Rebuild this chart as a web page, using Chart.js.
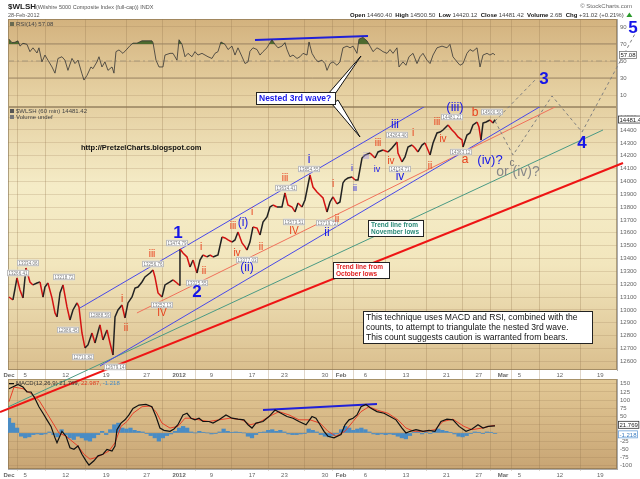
<!DOCTYPE html>
<html>
<head>
<meta charset="utf-8">
<script src="https://cdn.jsdelivr.net/npm/chart.js@4.4.1/dist/chart.umd.min.js"></script>
<style>
  html, body { margin: 0; padding: 0; background: #fff; }
  canvas { display: block; }
</style>
</head>
<body>
<canvas id="chart" width="640" height="479"></canvas>
<script>
// x values are trading-day indexes counted from Dec 1, 2011 (60 min bars)
const dateTicks = [0, 2, 7, 12, 17, 21, 25, 30, 34, 39, 41, 44, 49, 54, 58, 61, 63, 68, 73];
const dateLabels = ['Dec', '5', '12', '19', '27', '2012', '9', '17', '23', '30', 'Feb', '6', '13', '21', '27', 'Mar', '5', '12', '19'];
const monthTickIdx = [0, 5, 10, 15];

const rsiTicks = [10, 30, 50, 70, 90];
const priceTicks = [12600, 12700, 12800, 12900, 13000, 13100, 13200, 13300, 13400, 13500, 13600, 13700, 13800, 13900, 14000, 14100, 14200, 14300, 14400, 14500];
const macdTicks = [-100, -75, -50, -25, 0, 25, 50, 75, 100, 125, 150];

const priceT = [0,0.49,0.99,1.36,1.73,2.10,2.59,2.96,3.46,3.83,4.20,4.44,4.81,5.31,5.68,5.93,6.30,6.67,7.16,7.53,
  7.90,8.40,8.64,9.01,9.38,9.75,10.25,10.62,11.23,11.60,12.10,12.47,12.84,13.09,13.46,13.95,14.32,14.69,15.19,15.56,
  15.93,16.42,16.79,17.41,17.78,18.02,18.40,18.89,19.26,19.88,20.25,20.74,20.99,21.11,21.48,21.98,22.35,22.72,23.21,23.58,
  23.95,24.44,24.81,25.19,25.80,26.30,26.67,27.04,27.53,27.90,28.27,28.77,29.14,29.38,29.75,30.12,30.62,30.99,31.36,31.85,
  32.22,32.59,33.09,33.70,34.07,34.44,34.94,35.31,35.68,36.17,36.54,36.79,37.16,37.53,38.02,38.40,38.77,39.26,39.63,40.00,
  40.49,40.86,41.23,41.48,41.85,42.35,42.72,43.09,43.58,43.95,44.57,45.19,45.56,46.17,46.79,47.28,47.90,48.02,48.52,48.89,
  49.26,49.75,50.12,50.49,50.99,51.36,51.73,51.98,52.35,52.84,53.21,53.58,54.20,54.69,55.06,55.43,55.93,56.05,56.54,56.91,
  57.28,57.78,58.02,58.27,58.52,58.91,59.38,59.75,60.00];
const priceV = [13100,13077,13248,13155,13093,13326,13217,13194,13209,13217,13100,13178,13209,13093,12976,12945,13132,13194,13023,12921,
  12999,13054,13023,12820,12704,12727,12820,12742,12883,12766,12844,12742,12649,12945,12999,13038,12937,13054,13100,13170,
  13178,13217,13256,13287,13311,13256,13132,13100,13194,13217,13233,13209,13194,13474,13443,13412,13334,13388,13287,13388,
  13427,13412,13427,13412,13427,13567,13560,13544,13528,13544,13606,13521,13490,13466,13528,13645,13637,13583,13684,13723,
  13801,13816,13801,13801,13910,13816,13801,13762,13832,13801,13855,13933,14050,13956,13918,13894,13871,13762,13840,13879,
  13825,13840,13988,14011,14026,14034,14011,14011,14182,14205,14221,14182,14229,14244,14229,14260,14307,14221,14151,14190,
  14268,14283,14260,14229,14283,14299,14244,14205,14299,14377,14384,14400,14439,14400,14377,14346,14322,14268,14361,14377,
  14439,14462,14423,14322,14454,14462,14478,14454,14481];

const rsiT = [0,0.37,0.74,1.11,1.36,1.73,2.22,2.59,2.96,3.46,3.70,4.07,4.44,4.81,5.31,5.68,6.05,6.54,6.91,7.28,
  7.78,8.15,8.52,9.01,9.26,9.63,10.12,10.37,10.86,11.11,11.48,11.85,12.22,12.72,12.96,13.21,13.58,14.07,14.57,14.94,
  15.31,15.80,16.42,17.04,17.65,17.78,18.15,18.52,19.01,19.26,19.88,20.25,20.74,20.99,21.36,21.73,22.10,22.59,22.96,23.33,
  23.83,24.20,24.57,25.06,25.43,25.80,26.17,26.67,27.04,27.53,27.90,28.27,28.77,29.14,29.51,
  29.75,30.12,30.62,30.99,31.36,31.85,32.22,32.47,32.84,33.21,33.70,34.07,34.32,34.69,35.06,35.56,35.93,36.30,36.79,37.04,
  37.41,37.78,38.15,38.64,39.01,39.26,39.63,40.00,40.49,40.86,41.23,41.73,42.10,42.47,42.96,43.21,43.70,44.20,44.57,44.94,
  45.43,45.80,46.17,46.67,47.04,47.41,47.90,48.15,48.64,49.01,49.38,49.88,50.37,50.74,51.11,51.60,51.98,52.35,52.84,53.46,
  54.07,54.44,54.81,55.31,55.68,56.05,56.54,56.91,57.28,57.78,58.15,58.52,59.01,59.38,59.75,60.00];
const rsiV = [75.7,71.6,72,73.7,67.5,70.8,69.6,61,65.5,59.4,65.5,49,57,51,43,35.7,53,55,51,39,
  53,47,51,35,27.6,33,43,41,49,55,43,49,39,43,35.7,61,63,59,64,68,
  71,71,73.7,73.7,73.7,71.6,51,43,43,57,59,59,51,75,69.6,55,59,55,61,57,
  59,57,55,53,59,61,72.4,69.6,63.5,67.5,57,65.5,55,47,49,
  61.4,65.5,63.5,57,61,65.5,71.6,75,69.6,65.5,67.5,71.6,63.5,55,57,53,55,59,57,72.4,
  59,53,49,51,47,39,47,49,45,49,65.5,67.5,65.5,67.5,59,75.7,77.7,73.7,67.5,61,
  65.5,63.5,61,59,63.5,59,65.5,43,49,45,55,59,47,55,59,51,47,57,65.5,67.5,
  65.5,69.6,55,49,45,47,59,63.5,61.4,65.5,43,57,59,57,59,57.08];

const macdT = [0,1.11,1.73,2.22,2.72,3.21,3.70,4.20,4.69,5.19,5.68,5.93,6.54,7.04,7.53,8.02,8.52,9.01,9.51,9.88,
  10.49,10.99,11.60,12.10,12.72,13.09,13.33,13.83,14.32,14.81,15.31,16.05,16.91,17.65,18.15,18.64,19.14,19.88,20.37,20.86,
  21.48,21.98,22.47,22.96,23.46,23.95,24.69,25.19,25.93,26.79,27.53,28.27,29.01,29.51,30.00,30.49,31.36,32.10,32.84,33.58,
  34.32,35.06,35.80,36.67,37.41,37.90,38.40,38.89,39.38,40.12,40.99,41.48,41.98,42.47,42.96,43.46,44.07,44.69,45.43,46.30,
  47.04,47.78,48.52,49.01,49.51,50.25,51.11,51.85,52.59,53.33,54.07,54.81,55.56,56.42,57.16,57.90,58.52,59.14,60.00];
const macdV = [135,148,140,125,125,105,80,60,40,20,-15,-30,5,-10,-45,-50,-40,-65,-85,-98,
  -85,-70,-65,-50,-55,-40,10,30,40,55,75,85,87,80,50,15,8,5,12,25,
  55,60,45,40,45,35,35,30,40,55,45,42,40,25,15,30,35,50,70,60,
  50,45,35,25,50,45,25,5,-10,-15,-5,25,40,45,55,80,87,75,65,60,
  50,40,15,0,5,10,5,8,5,35,42,40,20,5,12,25,15,20,21.77];

const signalT = [0,0.62,1.73,2.72,3.70,4.69,5.43,6.17,7.04,7.78,8.52,9.26,10.00,10.74,11.60,12.35,13.09,13.83,14.57,15.31,
  16.42,17.41,18.15,18.89,19.88,20.86,21.73,22.47,23.46,24.69,25.93,27.28,28.77,29.75,30.74,32.10,33.33,34.57,35.80,37.16,
  38.40,39.38,40.37,41.48,42.47,43.46,44.44,45.43,46.79,48.02,49.01,50.00,51.36,52.59,53.58,54.81,56.17,57.16,58.40,59.63,60.00];
const signalV = [95,140,135,120,100,60,30,0,-10,-25,-40,-65,-80,-75,-65,-55,-30,20,35,60,
  80,82,65,30,15,20,45,45,40,35,40,45,40,25,30,50,65,55,40,40,
  30,5,-10,5,35,65,80,70,60,40,15,5,5,10,35,42,20,10,15,22,22.99];

const histT = [0,0.5,1,1.5,2,2.5,3,3.5,4,4.5,5,5.5,6,6.5,7,7.5,8,8.5,9,9.5,
  10,10.5,11,11.5,12,12.5,13,13.5,14,14.5,15,15.5,16,16.5,17,17.5,18,18.5,19,19.5,
  20,20.5,21,21.5,22,22.5,23,23.5,24,24.5,25,25.5,26,26.5,27,27.5,28,28.5,29,29.5,
  30,30.5,31,31.5,32,32.5,33,33.5,34,34.5,35,35.5,36,36.5,37,37.5,38,38.5,39,39.5,
  40,40.5,41,41.5,42,42.5,43,43.5,44,44.5,45,45.5,46,46.5,47,47.5,48,48.5,49,49.5,
  50,50.5,51,51.5,52,52.5,53,53.5,54,54.5,55,55.5,56,56.5,57,57.5,58,58.5,59,59.5,60];
const histV = [45,30,15,-10,-15,-12,-5,-3,-5,-3,3,-5,-12,10,-5,-15,-20,-10,-15,-22,
  -25,-15,-5,5,-5,10,25,30,15,12,15,8,5,3,-2,-8,-15,-25,-15,-8,
  -3,5,15,20,15,3,0,5,2,0,-3,-2,3,12,5,2,3,2,0,-10,
  -15,-5,2,3,8,10,5,8,3,-3,-5,-5,-3,-2,12,8,3,-5,-10,-12,
  -8,-3,10,20,15,8,12,15,10,3,-3,-5,-3,-5,-3,-5,-10,-15,-18,-8,
  2,5,-3,3,-2,5,12,8,5,2,-3,-10,-12,-8,-2,3,2,-2,3,2,-1.218];

// drawn wave-count lines (price axis)
const channelUpT = [8.77, 64.94], channelUpV = [13015, 15085];
const channelLoT = [11.23, 66.54], channelLoV = [12563, 14618];
const midLineT = [15.80, 68.40], midLineV = [12976, 14610];
const novLowsT = [-0.12, 73.33], novLowsV = [12244, 14400];
const octLowsT = [-1.11, 75.80], octLowsV = [12205, 14143];
const altPathT = [60.0, 64.94], altPathV = [14470, 14789];
const mainPathT = [60.0, 62.22, 67.04, 70.74, 77.53], mainPathV = [14470, 14205, 14665, 14384, 15178];
const wave3BoxT = [66.05], wave3BoxV = [[14633, 14882]];
const rsiDivT = [30.37, 44.32], rsiDivV = [74.7, 79.4];
const macdDivT = [31.36, 45.43], macdDivV = [70, 88];

const lastClose = 14481.42, lastRsi = 57.08, lastMacd = 21.769, lastSignal = 22.987, lastHist = -1.218;

const xMin = -0.12, xMax = 75.06;
const F = '"Liberation Sans", Arial, Helvetica, sans-serif';
const BLUE = '#1616e8', RED = '#e8401c', TICK = '#666';

const pts = (t, v) => t.map((x, i) => ({ x, y: v[i] }));
function line(t, v, axis, color, width, extra) {
  return Object.assign({
    type: 'line', data: pts(t, v), yAxisID: axis, xAxisID: 'x',
    borderColor: color, borderWidth: width, pointRadius: 0, fill: false, tension: 0
  }, extra || {});
}

function put(ctx, s, x, y, size, color, weight, align) {
  ctx.font = (weight || 'normal') + ' ' + size + 'px ' + F;
  ctx.fillStyle = color;
  ctx.textAlign = align || 'center';
  ctx.textBaseline = 'middle';
  ctx.fillText(s, x, y);
}
function tag(ctx, s, x, y, size, color, border, align) {
  ctx.font = size + 'px ' + F;
  const w = ctx.measureText(s).width + 3, h = size + 2;
  const left = align === 'left' ? x : x - w / 2;
  ctx.fillStyle = '#fff';
  ctx.fillRect(left, y - h / 2, w, h);
  ctx.strokeStyle = border; ctx.lineWidth = 0.8;
  ctx.strokeRect(left + 0.5, y - h / 2 + 0.5, w - 1, h - 1);
  ctx.fillStyle = color; ctx.textAlign = 'left'; ctx.textBaseline = 'middle';
  ctx.fillText(s, left + 1.5, y + 0.5);
}
function noteBox(ctx, x, y, w, h, lines, size, color, weight, lh) {
  ctx.fillStyle = '#fff'; ctx.fillRect(x, y, w, h);
  ctx.strokeStyle = '#222'; ctx.lineWidth = 1; ctx.strokeRect(x + 0.5, y + 0.5, w - 1, h - 1);
  lines.forEach((s, i) => put(ctx, s, x + 3, y + 1 + lh / 2 + i * lh, size, color, weight, 'left'));
}
function wedge(ctx, a, b, tip) {
  ctx.beginPath(); ctx.moveTo(a[0], a[1]); ctx.lineTo(tip[0], tip[1]); ctx.lineTo(b[0], b[1]); ctx.closePath();
  ctx.fillStyle = '#fff'; ctx.fill(); ctx.strokeStyle = '#111'; ctx.lineWidth = 1; ctx.stroke();
}

// wave labels: text, x, y, size, colour, weight
const waveLabels = [
  ['1', 178, 233, 17, BLUE, 'bold'], ['2', 197, 292, 17, BLUE, 'bold'], ['3', 544, 79, 17, BLUE, 'bold'],
  ['4', 582, 143, 17, BLUE, 'bold'], ['5', 633, 28, 17, BLUE, 'bold'],
  ['(i)', 243, 223, 12, BLUE], ['(ii)', 247, 268, 12, BLUE], ['(iii)', 455, 107, 13, BLUE], ['(iv)?', 490, 160, 13, BLUE],
  ['i', 309, 160, 12, BLUE], ['ii', 327, 233, 12, BLUE], ['iii', 395, 125, 12, BLUE], ['iv', 400, 177, 12, BLUE],
  ['i', 352, 169, 9, BLUE], ['ii', 355, 189, 9, BLUE], ['iv', 377, 170, 9, BLUE], ['iii', 366, 157, 9, '#9a8fe6'],
  ['iii', 152, 254, 10, RED], ['i', 122, 299, 10, RED], ['ii', 126, 328, 10, RED], ['IV', 162, 313, 10, RED],
  ['i', 201, 247, 10, RED], ['ii', 204, 271, 10, RED], ['iii', 233, 226, 10, RED], ['iv', 237, 253, 10, RED],
  ['i', 252, 212, 10, RED], ['ii', 261, 247, 10, RED], ['iii', 285, 178, 10, RED], ['IV', 294, 231, 10, RED],
  ['i', 333, 184, 10, RED], ['ii', 337, 219, 10, RED], ['iii', 378, 143, 10, RED], ['iv', 391, 161, 10, RED],
  ['i', 413, 133, 10, RED], ['ii', 430, 166, 10, RED], ['iii', 437, 122, 10, RED], ['iv', 443, 139, 10, RED],
  ['a', 465, 160, 12, RED], ['b', 475, 113, 12, RED],
  ['c', 512, 163, 10, '#777'], ['or (iv)?', 518, 172, 14, '#888']
];
// small price tags at swing points
const swingTags = [
  ['13266.41', 18, 273], ['13334.06', 28, 263], ['13218.72', 64, 277], ['12986.45', 68, 330], ['12888.59', 100, 315],
  ['12710.82', 83, 357], ['12679.14', 115, 367], ['13256.76', 153, 264], ['13252.13', 162, 305], ['13474.79', 177, 243],
  ['13325.55', 197, 283], ['13377.03', 247, 260], ['13634.41', 286, 188], ['13573.51', 294, 222], ['13854.55', 309, 169],
  ['13719.72', 327, 223], ['14264.40', 397, 135], ['14134.71', 400, 169], ['14481.21', 452, 117], ['14363.12', 461, 152],
  ['14500.50', 492, 112]
];

const panelPlugin = {
  id: 'panels',
  beforeDraw(chart) {
    const { ctx, chartArea: a, scales } = chart;
    ctx.save();
    ctx.fillStyle = '#fff';
    ctx.fillRect(0, 0, chart.width, chart.height);
    const band = (s, stops) => {
      const g = ctx.createLinearGradient(0, s.top, 0, s.bottom);
      stops.forEach(([o, c]) => g.addColorStop(o, c));
      ctx.fillStyle = g;
      ctx.fillRect(a.left, s.top, a.right - a.left, s.bottom - s.top);
    };
    band(scales.yR, [[0, '#d3b27e'], [1, '#e9d6a8']]);
    band(scales.y, [[0, '#e5d0a2'], [0.3, '#f5ecc7'], [0.6, '#f2e6bd'], [1, '#dabf8e']]);
    band(scales.yM, [[0, '#e3c996'], [1, '#c8a574']]);
    ctx.strokeStyle = 'rgba(120,100,70,0.55)'; ctx.lineWidth = 1;
    [scales.yR, scales.y, scales.yM].forEach(s => ctx.strokeRect(a.left + 0.5, s.top + 0.5, a.right - a.left - 1, s.bottom - s.top - 1));
    ctx.restore();
  },
  afterDraw(chart) {
    const { ctx, scales } = chart;
    ctx.save();
    // header
    put(ctx, '$WLSH', 8, 7, 8, '#222', 'bold', 'left');
    put(ctx, '(Wilshire 5000 Composite Index (full-cap)) INDX', 36, 7.5, 5.5, '#555', 'normal', 'left');
    put(ctx, '28-Feb-2012', 8, 15, 5.5, '#555', 'normal', 'left');
    put(ctx, '\u00a9 StockCharts.com', 632, 6.5, 6, '#666', 'normal', 'right');
    const ohlc = [['Open', 1], [' 14460.40  ', 0], ['High', 1], [' 14500.50  ', 0], ['Low', 1], [' 14420.12  ', 0],
      ['Close', 1], [' 14481.42  ', 0], ['Volume', 1], [' 2.6B  ', 0], ['Chg', 1], [' +31.02 (+0.21%) ', 0]];
    let hx = 350;
    ohlc.forEach(([s, b]) => {
      ctx.font = (b ? 'bold ' : '') + '6px ' + F;
      put(ctx, s, hx, 15, 6, b ? '#111' : '#444', b ? 'bold' : 'normal', 'left');
      hx += ctx.measureText(s).width;
    });
    ctx.fillStyle = '#2a9a2a';
    ctx.beginPath(); ctx.moveTo(hx + 1, 17); ctx.lineTo(hx + 7, 17); ctx.lineTo(hx + 4, 12.5); ctx.closePath(); ctx.fill();

    // panel captions
    ctx.fillStyle = '#6a6a50'; ctx.fillRect(10, 22, 4, 4);
    put(ctx, 'RSI(14) 57.08', 16, 24.5, 6, '#444', 'normal', 'left');
    ctx.fillStyle = '#555'; ctx.fillRect(10, 109, 4, 4);
    put(ctx, '$WLSH (60 min) 14481.42', 16, 111, 6, '#444', 'normal', 'left');
    ctx.fillStyle = '#777'; ctx.fillRect(10, 115, 4, 4);
    put(ctx, 'Volume undef', 16, 117.5, 6, '#444', 'normal', 'left');
    ctx.fillStyle = '#111'; ctx.fillRect(9, 383, 5, 1.3);
    let mx = 16;
    [['MACD(12,26,9) 21.769,', '#333'], [' 22.987,', '#e03a20'], [' -1.218', '#4a8cc4']].forEach(([s, c]) => {
      put(ctx, s, mx, 383.5, 6, c, 'normal', 'left');
      ctx.font = '6px ' + F; mx += ctx.measureText(s).width;
    });

    // blog address
    put(ctx, 'http://PretzelCharts.blogspot.com', 81, 148, 7.5, '#111', 'bold', 'left');

    // callout for the nested 3rd wave
    wedge(ctx, [328, 94], [335, 94], [361, 56]);
    wedge(ctx, [332, 104], [338, 100], [360, 137]);
    noteBox(ctx, 256, 92, 80, 13, ['Nested 3rd wave?'], 8.5, BLUE, 'bold', 11);

    noteBox(ctx, 368, 220, 56, 17, ['Trend line from', 'November lows'], 6.5, '#2a8a78', 'bold', 7.5);
    noteBox(ctx, 333, 262, 57, 17, ['Trend line from', 'October lows'], 6.5, '#e02020', 'bold', 7.5);
    noteBox(ctx, 363, 311, 230, 33, ['This technique uses MACD and RSI, combined with the',
      'counts, to attempt to triangulate the nested 3rd wave.',
      'This count suggests caution is warranted from bears.'], 8.6, '#111', 'normal', 10.3);

    swingTags.forEach(([s, x, y]) => tag(ctx, s, x, y, 4.5, '#777', '#aaa'));
    waveLabels.forEach(([s, x, y, size, c, w]) => put(ctx, s, x, y, size, c, w || 'normal'));

    // last-value boxes on the right axes
    tag(ctx, lastClose.toFixed(2), 618, scales.y.getPixelForValue(lastClose), 6, '#222', '#333', 'left');
    tag(ctx, lastRsi.toFixed(2), 619, scales.yR.getPixelForValue(lastRsi), 6, '#222', '#777', 'left');
    tag(ctx, lastMacd.toFixed(3), 618, scales.yM.getPixelForValue(lastMacd) - 1, 6, '#222', '#333', 'left');
    tag(ctx, lastHist.toFixed(3), 618, scales.yM.getPixelForValue(lastHist) + 1, 6, '#3a7cc0', '#6aa0d8', 'left');
    ctx.restore();
  }
};

const gridCol = 'rgba(150,120,80,0.22)';
const yAxis = (stack, weight, min, max, tickList, extra) => Object.assign({
  type: 'linear', position: 'right', stack: 'panels', stackWeight: stack, weight, min, max, offset: false,
  afterFit: s => { s.width = 23; },
  afterBuildTicks: s => { s.ticks = (tickList || []).map(v => ({ value: v })); },
  grid: { color: gridCol, drawTicks: false },
  border: { color: '#aaa' },
  ticks: { color: TICK, font: { size: 6, family: F }, padding: 3, autoSkip: false, display: !!tickList,
    callback: v => String(v) }
}, extra || {});

new Chart(document.getElementById('chart'), {
  type: 'line',
  data: {
    datasets: [
      line(priceT, priceV, 'y', '#222', 1.5, {
        segment: { borderColor: c => c.p1.parsed.y < c.p0.parsed.y ? '#d41212' : '#222' }
      }),
      line(rsiT, rsiV, 'yR', '#333', 0.8, {
        fill: { target: { value: 70 }, above: '#4d6a2e', below: 'rgba(0,0,0,0)' }
      }),
      line(macdT, macdV, 'yM', '#111', 1.2),
      line(signalT, signalV, 'yM', '#e8402a', 1),
      { type: 'bar', data: pts(wave3BoxT, wave3BoxV), xAxisID: 'x', yAxisID: 'y', grouped: false,
        barThickness: 34, backgroundColor: '#22c4a0', borderColor: '#16a585', borderWidth: 1 },
      line(altPathT, altPathV, 'y', '#808080', 1, { borderDash: [3, 3], clip: false }),
      line(mainPathT, mainPathV, 'y', '#808080', 1, { borderDash: [3, 3], clip: false }),
      line(rsiDivT, rsiDivV, 'yR', '#2020d8', 2),
      line(macdDivT, macdDivV, 'yM', '#2020d8', 2),
      line(channelUpT, channelUpV, 'y', '#4848e8', 1),
      line(channelLoT, channelLoV, 'y', '#4848e8', 1),
      line(midLineT, midLineV, 'y', '#f0705a', 1),
      line(novLowsT, novLowsV, 'y', '#4a9a84', 1, { clip: false }),
      line(octLowsT, octLowsV, 'y', '#ee1515', 2, { clip: false }),
      line([xMin, xMax], [70, 70], 'yR', '#a08a68', 1),
      line([xMin, xMax], [30, 30], 'yR', '#a08a68', 1),
      line([xMin, xMax], [50, 50], 'yR', '#a8987a', 1, { borderDash: [6, 3, 2, 3] }),
      { type: 'bar', data: pts(histT, histV), xAxisID: 'x', yAxisID: 'yM', grouped: false,
        barThickness: 3.6, backgroundColor: '#4a8cc4', borderWidth: 0 }
    ]
  },
  options: {
    responsive: false,
    animation: false,
    events: [],
    layout: { padding: { left: 8, top: 19, right: 0, bottom: 0 } },
    plugins: { legend: { display: false }, tooltip: { enabled: false } },
    scales: {
      x: {
        type: 'linear', position: 'bottom', min: xMin, max: xMax, offset: false,
        afterFit: s => { s.height = 10; },
        afterBuildTicks: s => { s.ticks = dateTicks.map(v => ({ value: v })); },
        grid: { color: 'rgba(150,120,80,0.3)', tickLength: 2 },
        border: { color: '#aaa' },
        ticks: {
          callback: (v, i) => dateLabels[i], autoSkip: false, maxRotation: 0, padding: 1, color: TICK,
          font: c => ({ size: 6, family: F, weight: monthTickIdx.includes(c.index) ? 'bold' : 'normal' })
        }
      },
      x2: {
        type: 'linear', position: { y: 12532 }, min: xMin, max: xMax, offset: false,
        afterBuildTicks: s => { s.ticks = dateTicks.map(v => ({ value: v })); },
        grid: { display: false, drawTicks: false },
        border: { display: false },
        ticks: {
          callback: (v, i) => dateLabels[i], autoSkip: false, maxRotation: 0, padding: 2, color: TICK, z: 1,
          font: c => ({ size: 6, family: F, weight: monthTickIdx.includes(c.index) ? 'bold' : 'normal' })
        }
      },
      yR: yAxis(88, 1, -4.1, 99.4, rsiTicks),
      y: yAxis(263, 2, 12532, 14579, priceTicks),
      yGap: yAxis(9, 3, 0, 1, null, { grid: { display: false }, border: { display: false } }),
      yM: yAxis(90, 4, -110, 164.6, macdTicks)
    }
  },
  plugins: [panelPlugin]
});
</script>
</body>
</html>
